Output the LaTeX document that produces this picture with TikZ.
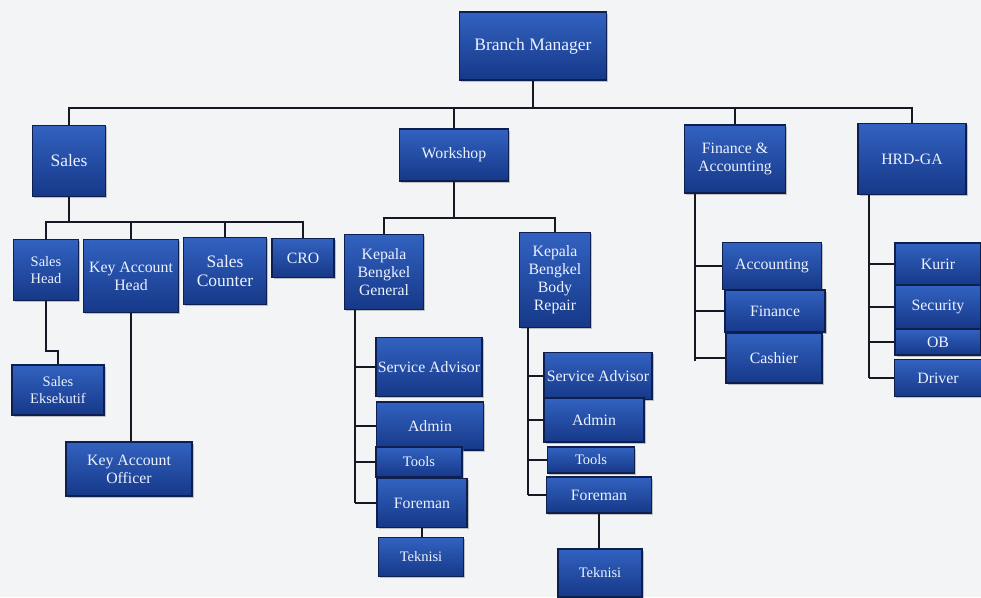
\documentclass[tikz,border=0pt]{standalone}
\usepackage{fontspec}
\setmainfont{Liberation Serif}
\usetikzlibrary{shadows}
\definecolor{unittop}{RGB}{50,98,192}
\definecolor{unitbot}{RGB}{22,56,136}
\definecolor{unitedge}{RGB}{14,30,78}
\definecolor{unittext}{RGB}{236,242,255}
\definecolor{paper}{RGB}{243,244,246}
\definecolor{wire}{RGB}{22,24,36}
\tikzset{
  unit/.style={draw=unitedge, line width=1.2pt, top color=unittop, bottom color=unitbot,
    text=unittext, align=center, inner sep=1pt,
    font=\fontsize{15.8}{18}\selectfont,
    drop shadow={shadow xshift=1.5pt, shadow yshift=-1.5pt, opacity=0.45}},
  bigunit/.style={unit, font=\fontsize{17.5}{19.5}\selectfont},
  smallunit/.style={unit, font=\fontsize{14.5}{17}\selectfont},
  wires/.style={draw=wire, line width=1.7pt}
}
\begin{document}
\begin{tikzpicture}[x=1pt, y=-1pt]
\fill[paper] (0,0) rectangle (981,597);
\useasboundingbox (0,0) rectangle (981,597);
% top level
\node[bigunit, minimum width=147, minimum height=68] (bm) at (533,46) {Branch Manager};
\node[bigunit, minimum width=73, minimum height=71] (sales) at (69,161) {Sales};
\node[unit, minimum width=109, minimum height=52] (ws) at (454,155) {Workshop};
\node[unit, minimum width=101, minimum height=68] (fa) at (735,159) {Finance \&\\Accounting};
\node[unit, minimum width=108, minimum height=71] (hrd) at (912,159) {HRD-GA};
\coordinate (bus) at (533,108);
\draw[wires] (bm.south) -- (bus);
\draw[wires] (sales.north) |- (bus) -| (hrd.north);
\draw[wires] (ws.north) -- (ws.north |- bus);
\draw[wires] (fa.north) -- (fa.north |- bus);
% sales
\node[smallunit, minimum width=65, minimum height=61] (sh) at (46,270) {Sales\\Head};
\node[unit, minimum width=95, minimum height=73] (kah) at (131,276) {Key Account\\Head};
\node[bigunit, minimum width=83, minimum height=67] (sc) at (225,271) {Sales\\Counter};
\node[unit, minimum width=62, minimum height=39] (cro) at (303,258) {CRO};
\node[smallunit, minimum width=92, minimum height=50] (se) at (58,390) {Sales\\Eksekutif};
\node[unit, minimum width=126, minimum height=54] (kao) at (129,469) {Key Account\\Officer};
\coordinate (salesbus) at (69,222);
\draw[wires] (sales.south) -- (salesbus);
\draw[wires] (sh.north) |- (salesbus) -| (cro.north);
\draw[wires] (kah.north) -- (kah.north |- salesbus);
\draw[wires] (sc.north) -- (sc.north |- salesbus);
\draw[wires] (sh.south) -- ++(0,50) -| (se.north);
\draw[wires] (kah.south) -- (kah.south |- kao.north);
% workshop
\node[unit, minimum width=79, minimum height=75] (kbg) at (384,272) {Kepala\\Bengkel\\General};
\node[unit, minimum width=71, minimum height=95] (kbb) at (555,280) {Kepala\\Bengkel\\Body\\Repair};
\coordinate (wsbus) at (454,218);
\draw[wires] (ws.south) -- (wsbus);
\draw[wires] (kbg.north) |- (wsbus) -| (kbb.north);
% general workshop staff
\node[unit, minimum width=106, minimum height=59] (sa1) at (429,367) {Service Advisor};
\node[unit, minimum width=107, minimum height=48] (ad1) at (430,426) {Admin};
\node[smallunit, minimum width=86, minimum height=30] (tl1) at (419,462) {Tools};
\node[unit, minimum width=90, minimum height=49] (fm1) at (422,503) {Foreman};
\node[smallunit, minimum width=85, minimum height=39] (tk1) at (421,557) {Teknisi};
\coordinate (gspine) at (355,503);
\draw[wires] (kbg.south -| gspine) -- (gspine);
\foreach \n in {sa1,ad1,tl1,fm1}
  \draw[wires] (\n.west) -- (\n.west -| gspine);
\draw[wires] (fm1.south) -- (fm1.south |- tk1.north);
% body repair staff
\node[unit, minimum width=108, minimum height=47] (sa2) at (598,376) {Service Advisor};
\node[unit, minimum width=100, minimum height=44] (ad2) at (594,420) {Admin};
\node[smallunit, minimum width=87, minimum height=26] (tl2) at (591,460) {Tools};
\node[unit, minimum width=105, minimum height=36] (fm2) at (599,495) {Foreman};
\node[smallunit, minimum width=84, minimum height=48] (tk2) at (600,573) {Teknisi};
\coordinate (bspine) at (528,495);
\draw[wires] (kbb.south -| bspine) -- (bspine);
\foreach \n in {sa2,ad2,tl2,fm2}
  \draw[wires] (\n.west) -- (\n.west -| bspine);
\draw[wires] (fm2.south) -- (fm2.south |- tk2.north);
% finance
\node[unit, minimum width=99, minimum height=47] (acc) at (772,266) {Accounting};
\node[unit, minimum width=100, minimum height=42] (fin) at (775,311) {Finance};
\node[unit, minimum width=96, minimum height=50] (cas) at (774,358) {Cashier};
\coordinate (fspine) at (695,361);
\draw[wires] (fa.south -| fspine) -- (fspine);
\foreach \n in {acc,fin,cas}
  \draw[wires] (\n.west) -- (\n.west -| fspine);
% hrd
\node[unit, minimum width=86, minimum height=42] (kur) at (938,264) {Kurir};
\node[unit, minimum width=86, minimum height=43] (sec) at (938,307) {Security};
\node[unit, minimum width=86, minimum height=26] (ob) at (938,342) {OB};
\node[unit, minimum width=87, minimum height=37] (drv) at (938,378) {Driver};
\coordinate (hspine) at (869,378);
\draw[wires] (hrd.south -| hspine) -- (hspine);
\foreach \n in {kur,sec,ob,drv}
  \draw[wires] (\n.west) -- (\n.west -| hspine);
\end{tikzpicture}
\end{document}
